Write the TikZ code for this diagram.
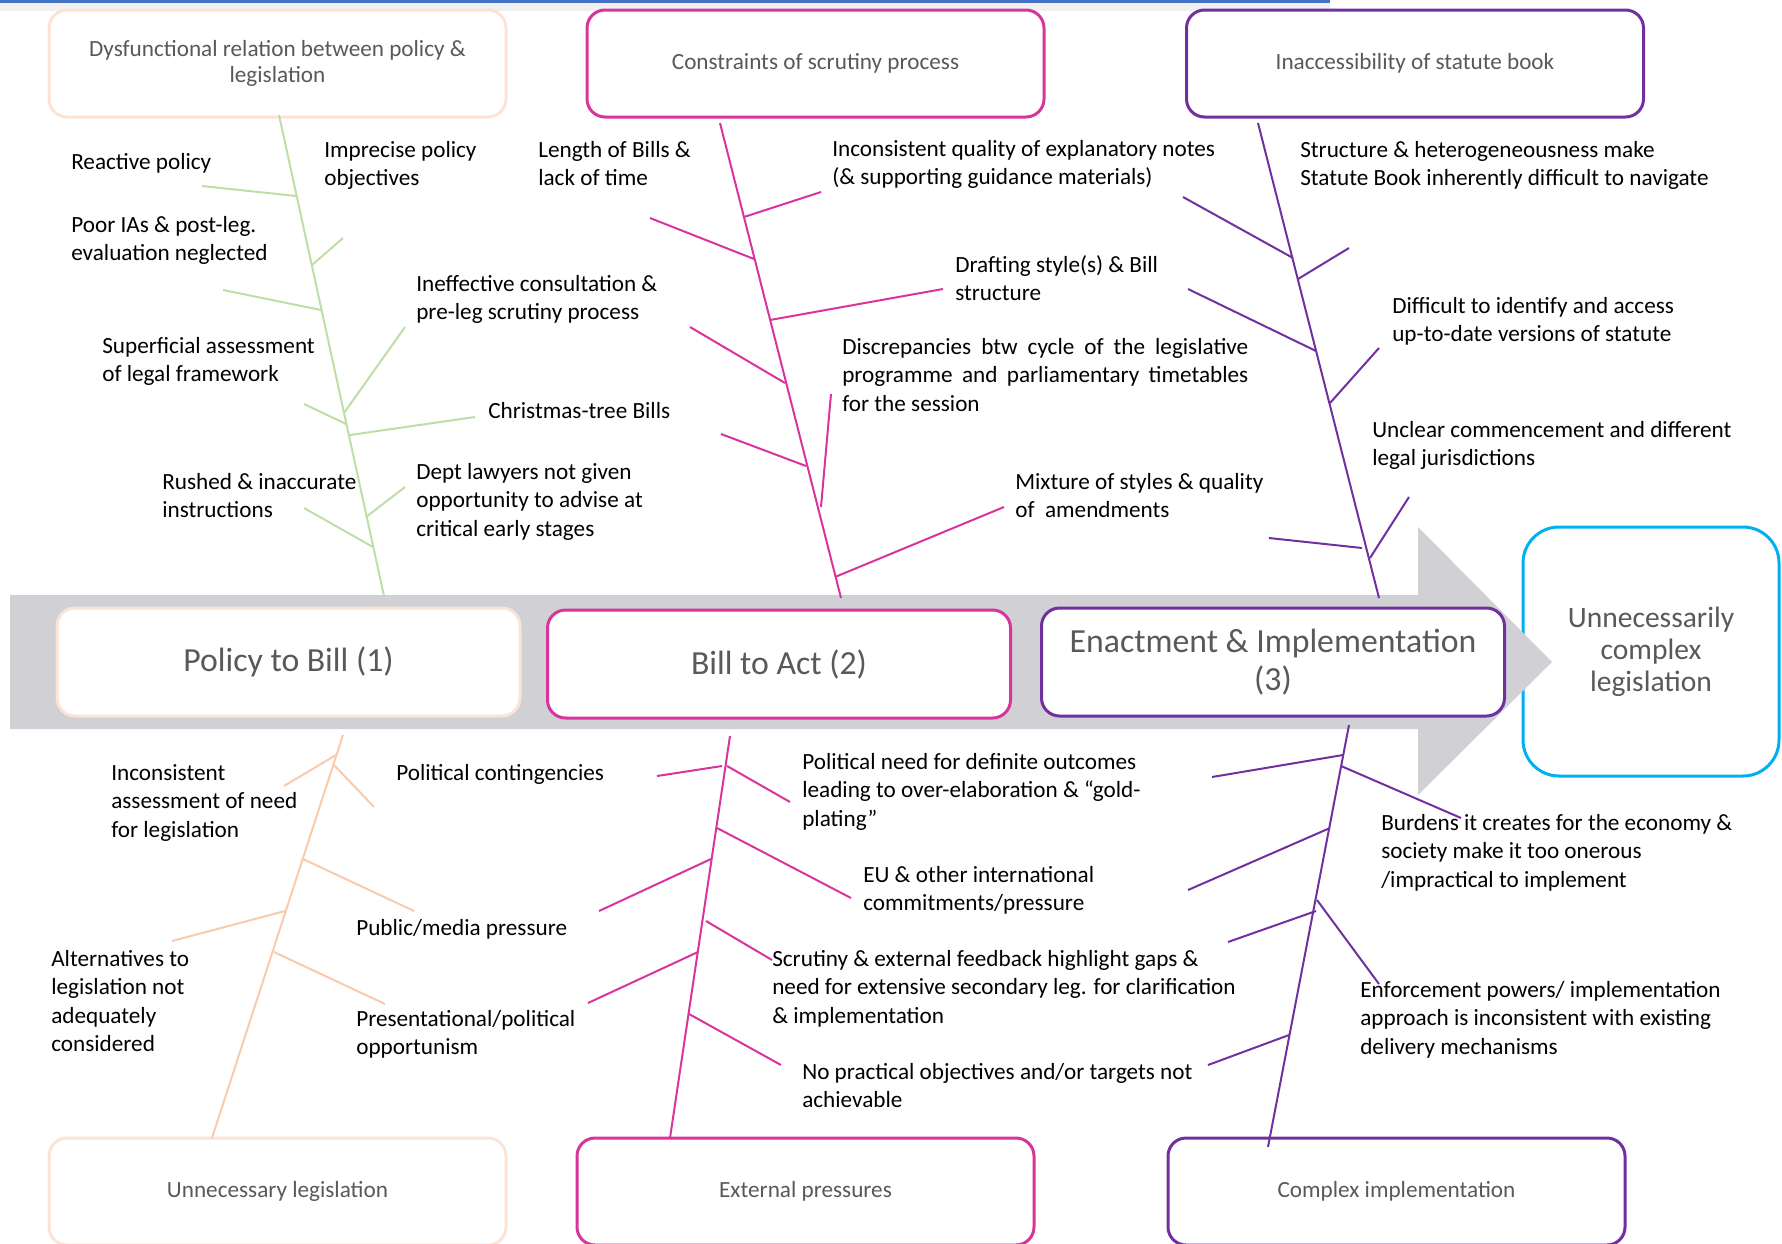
\documentclass[tikz,border=0pt]{standalone}
\usepackage{fontspec}
\setmainfont{Carlito}
\definecolor{peachpale}{RGB}{251,228,213}
\definecolor{peach}{RGB}{248,203,173}
\definecolor{leaf}{RGB}{190,222,168}
\definecolor{magent}{RGB}{216,52,155}
\definecolor{purp}{RGB}{112,48,160}
\definecolor{skyblue}{RGB}{0,176,240}
\definecolor{bandgray}{RGB}{208,208,213}
\definecolor{textgray}{RGB}{89,89,89}
\definecolor{topblue}{RGB}{68,114,196}
\newlength{\pxu}\setlength{\pxu}{0.25mm}
\begin{document}
\begin{tikzpicture}[x=0.25mm,y=-0.25mm]
            \tikzstyle{cause}=[anchor=north west,inner sep=0pt,align=left,font=\fontsize{16.5}{20.2}\selectfont]
            \tikzstyle{cat}=[draw,fill=white,rounded corners=4.5mm,line width=0.75mm,minimum width=457\pxu,minimum height=107\pxu,text=textgray,align=center,font=\fontsize{16.5}{18.2}\selectfont]
            \tikzstyle{stage}=[cat,minimum width=463\pxu,minimum height=108\pxu,font=\fontsize{24}{27}\selectfont]
            \tikzstyle{bone}=[line width=0.5mm]
            \useasboundingbox (0,0) rectangle (1782,1243);
            \draw[gray!12,line width=2mm] (0,7) -- (1330,7);
            \draw[topblue,line width=0.75mm] (0,1.5) -- (1330,1.5);
            \node[cat,draw=skyblue,minimum width=256\pxu,minimum height=249\pxu,rounded corners=9mm,font=\fontsize{21}{22.8}\selectfont] (r) at (1651,651.5) {Unnecessarily\\complex\\legislation};
            \fill[bandgray] (10,595) -- (1418,595) -- (1418,527) -- (1552,662) -- (1418,795) -- (1418,729) -- (10,729) -- cycle;
            \node[stage,draw=peachpale] (s1) at (288.5,662) {Policy to Bill (1)};
            \node[stage,draw=magent] (s2) at (779,664) {Bill to Act (2)};
            \node[stage,draw=purp] (s3) at (1273,662) {Enactment \& Implementation\\(3)};
            \node[cat,draw=peachpale] (d1) at (277.5,63.5) {Dysfunctional relation between policy \&\\legislation};
            \node[cat,draw=magent] (c1) at (815.5,63.5) {Constraints of scrutiny process};
            \node[cat,draw=purp] (i1) at (1415,63.5) {Inaccessibility of statute book};
            \node[cat,draw=peachpale] (u1) at (277.5,1191.5) {Unnecessary legislation};
            \node[cat,draw=magent] (e1) at (805.5,1191.5) {External pressures};
            \node[cat,draw=purp] (x1) at (1396.5,1191.5) {Complex implementation};
            \coordinate (g0) at (279,115); \coordinate (g1) at (384,596);
            \coordinate (m0) at (720,123); \coordinate (m1) at (841,598);
            \coordinate (p0) at (1258,123); \coordinate (p1) at (1379,598);
            \coordinate (q0) at (343,735); \coordinate (q1) at (212,1138);
            \coordinate (n0) at (730,736); \coordinate (n1) at (670,1138);
            \coordinate (k0) at (1349,725); \coordinate (k1) at (1268,1147);
            \draw[bone,leaf] (g0) -- (g1);
            \draw[bone,magent] (m0) -- (m1);
            \draw[bone,purp] (p0) -- (p1);
            \draw[bone,peach] (q0) -- (q1);
            \draw[bone,magent] (n0) -- (n1);
            \draw[bone,purp] (k0) -- (k1);
            \foreach \xa/\ya/\xb/\yb in {202/186/296/196, 343/238/312/265, 223/290/321/310, 405/327/344/413,
                               304/404/346/424, 475/417/350/435, 405/487/366/517, 304/508/373/547}
              {\draw[bone,leaf] (\xa,\ya) -- (\xb,\yb);}
            \foreach \xa/\ya/\xb/\yb in {821/192/744/217, 650/218/754/259, 943/289/770/320, 690/327/785/383,
                               721/434/806/466, 831/394/821/507, 1004/507/835/577}
              {\draw[bone,magent] (\xa,\ya) -- (\xb,\yb);}
            \foreach \xa/\ya/\xb/\yb in {1183/197/1293/258, 1349/248/1298/279, 1188/289/1316/351, 1379/348/1330/403,
                               1269/538/1362/548, 1409/497/1370/558}
              {\draw[bone,purp] (\xa,\ya) -- (\xb,\yb);}
            \foreach \xa/\ya/\xb/\yb in {284/786/336/755, 334/765/374/807, 414/911/303/859, 172/941/285/911, 385/1004/274/952}
              {\draw[bone,peach] (\xa,\ya) -- (\xb,\yb);}
            \foreach \xa/\ya/\xb/\yb in {657/776/722/766, 727/766/790/802, 717/828/851/898, 599/911/711/859,
                               706/921/772/960, 588/1003/698/952, 689/1014/781/1065}
              {\draw[bone,magent] (\xa,\ya) -- (\xb,\yb);}
            \foreach \xa/\ya/\xb/\yb in {1212/777/1343/755, 1341/766/1461/818, 1188/890/1330/828, 1228/942/1316/911,
                               1317/900/1379/984, 1208/1065/1289/1035}
              {\draw[bone,purp] (\xa,\ya) -- (\xb,\yb);}
            \node[cause] (t1) at (71,153) {Reactive policy};
            \node[cause] (t2) at (324,141) {Imprecise policy\\objectives};
            \node[cause] (t3) at (71,216) {Poor IAs \& post-leg.\\evaluation neglected};
            \node[cause] (t4) at (416,275) {Ineffective consultation \&\\pre-leg scrutiny process};
            \node[cause] (t5) at (102,337) {Superficial assessment\\of legal framework};
            \node[cause] (t6) at (488,402) {Christmas-tree Bills};
            \node[cause] (t7) at (162,473) {Rushed \& inaccurate\\instructions};
            \node[cause] (t8) at (416,463) {Dept lawyers not given\\opportunity to advise at\\critical early stages};
            \node[cause] (t9) at (538,141) {Length of Bills \&\\lack of time};
            \node[cause] (t10) at (832,140) {Inconsistent quality of explanatory notes\\(\& supporting guidance materials)};
            \node[cause] (t11) at (955,255) {Drafting style(s) \& Bill\\structure};
            \node[cause] (t12) at (842,338) {\makebox[406\pxu][s]{Discrepancies btw cycle of the legislative}\\\makebox[406\pxu][s]{programme and parliamentary timetables}\\for the session};
            \node[cause] (t13) at (1015,473) {Mixture of styles \& quality\\of\ \ amendments};
            \node[cause] (t14) at (1300,141) {Structure \& heterogeneousness make\\Statute Book inherently difficult to navigate};
            \node[cause] (t15) at (1392,297) {Difficult to identify and access\\up-to-date versions of statute};
            \node[cause] (t16) at (1372,421) {Unclear commencement and different\\legal jurisdictions};
            \node[cause] (t17) at (111,764) {Inconsistent\\assessment of need\\for legislation};
            \node[cause] (t18) at (396,764) {Political contingencies};
            \node[cause] (t19) at (356,919) {Public/media pressure};
            \node[cause] (t20) at (51,950) {Alternatives to\\legislation not\\adequately\\considered};
            \node[cause] (t21) at (356,1010) {Presentational/political\\opportunism};
            \node[cause] (t22) at (802,753) {Political need for definite outcomes\\leading to over-elaboration \& “gold-\\plating”};
            \node[cause] (t23) at (863,866) {EU \& other international\\commitments/pressure};
            \node[cause] (t24) at (772,950) {Scrutiny \& external feedback highlight gaps \&\\need for extensive secondary leg. for clarification\\\& implementation};
            \node[cause] (t25) at (802,1063) {No practical objectives and/or targets not\\achievable};
            \node[cause] (t26) at (1381,814) {Burdens it creates for the economy \&\\society make it too onerous\\/impractical to implement};
            \node[cause] (t27) at (1360,981) {Enforcement powers/ implementation\\approach is inconsistent with existing\\delivery mechanisms};
        \end{tikzpicture}
\end{document}
